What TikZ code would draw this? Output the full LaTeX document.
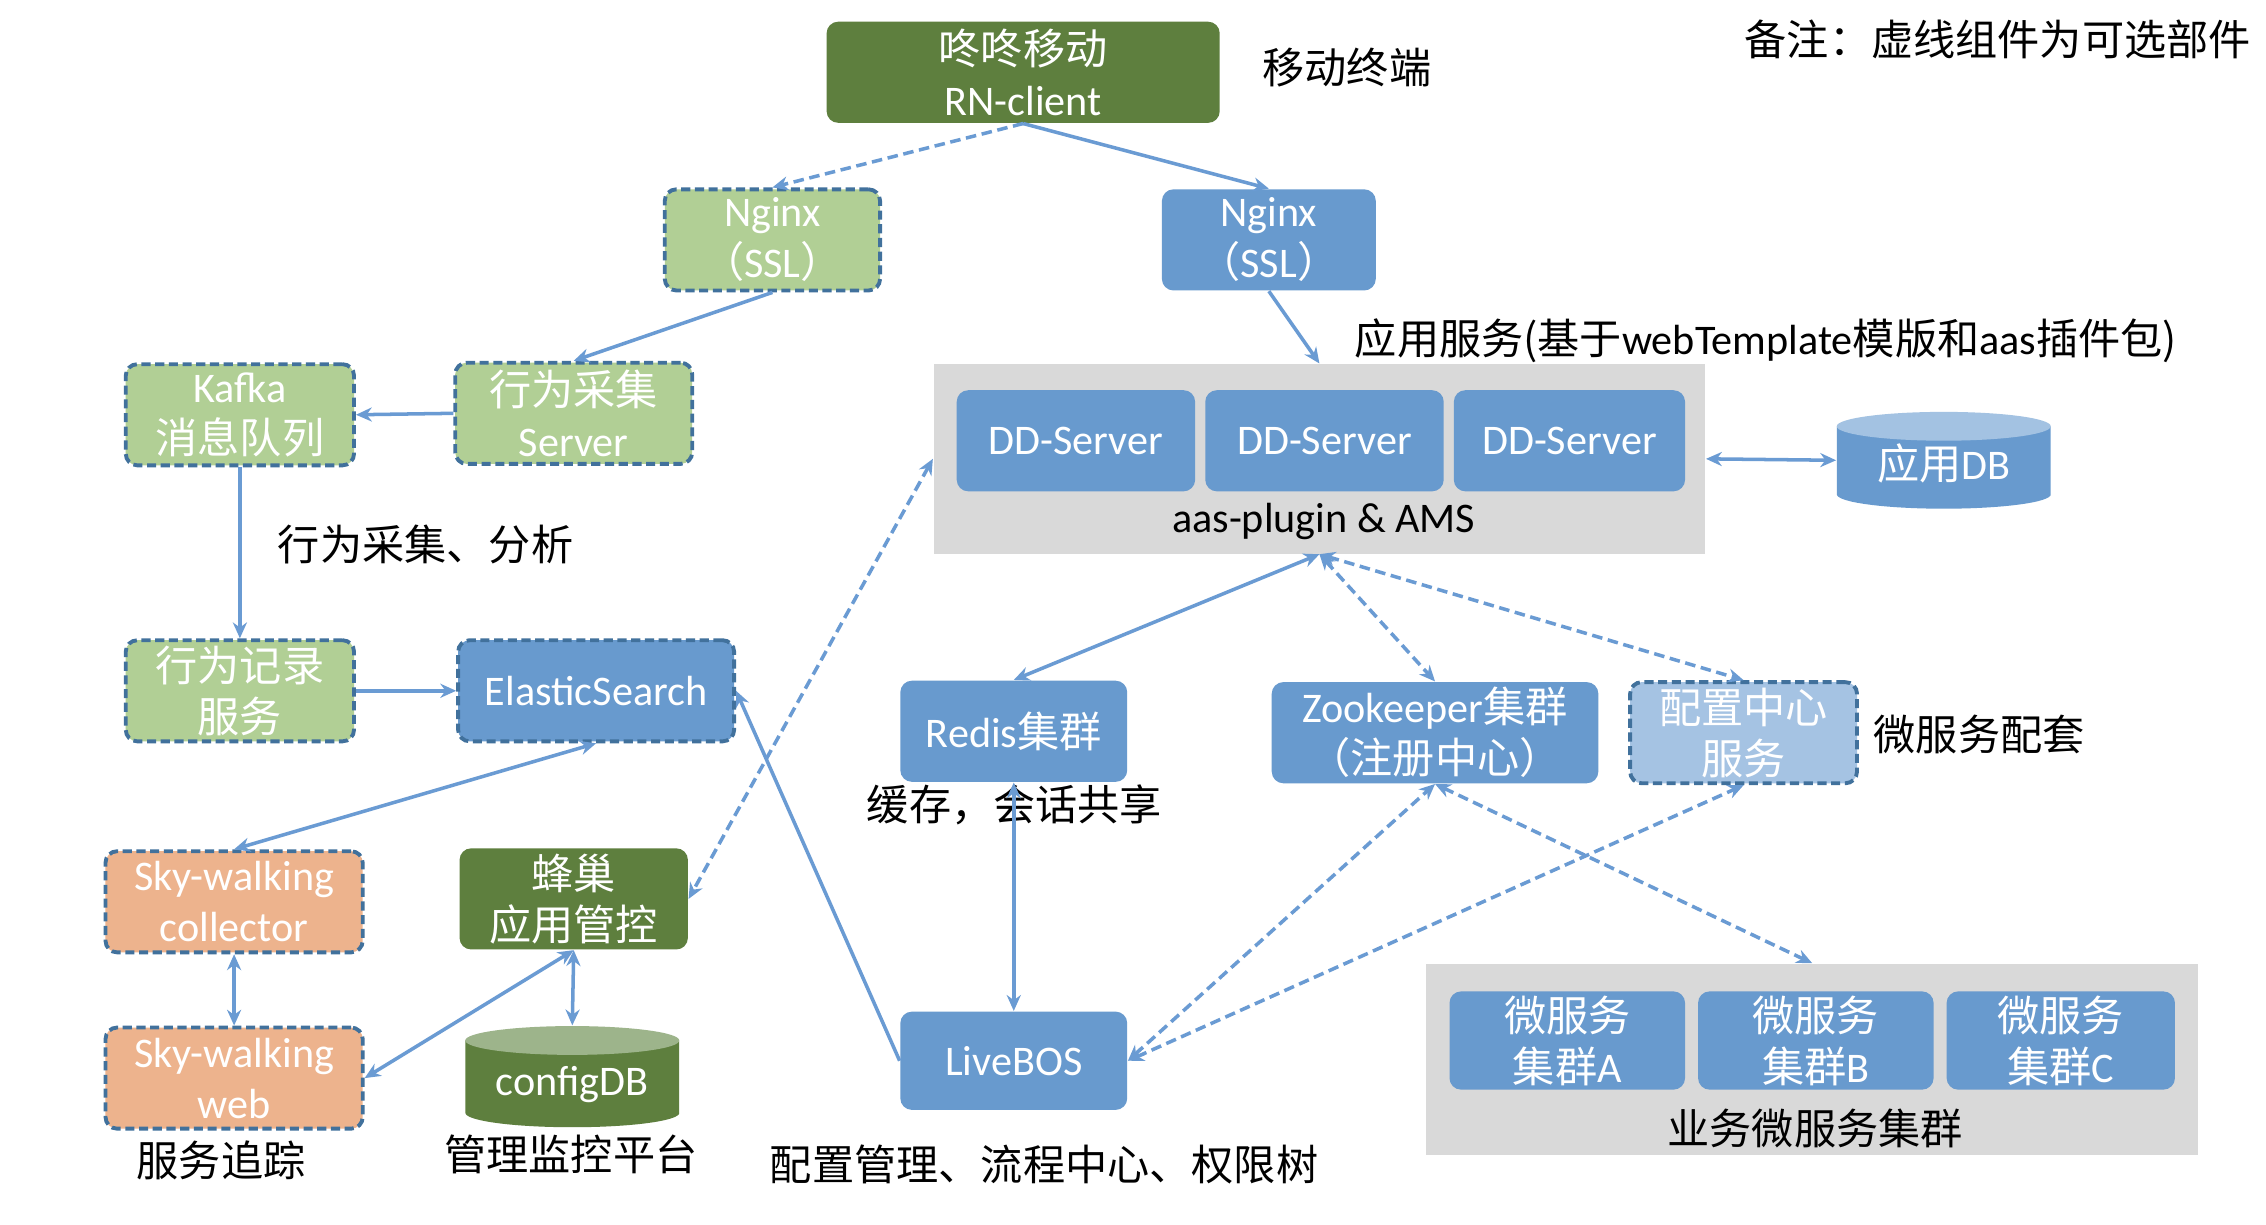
\documentclass[tikz,border=0pt]{standalone}
\usepackage{fontspec}
\setmainfont{Carlito}
\newfontfamily\zhfont{Noto Sans CJK SC}
\usepackage{tikz}
\usetikzlibrary{arrows.meta}
\usetikzlibrary{arrows}

\definecolor{linkblue}{RGB}{106,155,211}
\definecolor{boxblue}{RGB}{104,154,206}
\definecolor{darkgreen}{RGB}{94,127,62}
\definecolor{lightgreen}{RGB}{177,207,149}
\definecolor{optborder}{RGB}{65,113,156}
\definecolor{skyorange}{RGB}{237,179,141}
\definecolor{lightblue}{RGB}{165,195,227}
\definecolor{panelgrey}{RGB}{217,217,217}
\definecolor{dbbluetop}{RGB}{163,194,226}
\definecolor{dbgreentop}{RGB}{157,180,139}

\newcommand{\zh}[1]{{\zhfont #1}}
\newcommand{\boxfont}{\fontsize{12}{14.5}\selectfont}
\newcommand{\dbtext}[1]{\raisebox{-5.5pt}[0pt][0pt]{#1}}

\begin{document}
\begin{tikzpicture}[x=0.014452cm, y=-0.014452cm, >={Stealth[length=4.5pt,width=4pt]},
        box_size/.style 2 args={minimum width=#1*0.014452cm, minimum height=#2*0.014452cm},
        box_style/.style={rounded corners=3.3pt, inner sep=0pt, align=center, text=white, font=\boxfont},
        blue_node_style/.style={box_style, fill=boxblue},
        green_node_style/.style={box_style, fill=darkgreen},
        opt_node_style/.style={box_style, draw=optborder, line width=1.1pt, dash pattern=on 2.6pt off 1.3pt},
        opt_green_node_style/.style={opt_node_style, fill=lightgreen},
        opt_blue_node_style/.style={opt_node_style, fill=boxblue},
        opt_orange_node_style/.style={opt_node_style, fill=skyorange},
        opt_light_node_style/.style={opt_node_style, fill=lightblue},
        panel_style/.style={fill=panelgrey, inner sep=0pt},
        db_style/.style 2 args={inner sep=0pt, text=white, font=\boxfont, path picture={
            \fill [#1] ([yshift=-4.1pt]path picture bounding box.north west) -- ([yshift=4.1pt]path picture bounding box.south west)
                arc [start angle=180, end angle=360, x radius=30.45pt, y radius=4.1pt]
                -- ([yshift=-4.1pt]path picture bounding box.north east) -- cycle;
            \fill [#2] ([yshift=-4.1pt]path picture bounding box.north) ellipse [x radius=30.45pt, y radius=4.1pt];}},
        note_style/.style={inner sep=0pt, font=\boxfont},
        edge_style/.style={draw=linkblue, line width=1pt, ->},
        opt_edge_style/.style={edge_style, dash pattern=on 3pt off 1.6pt}]

        \path [use as bounding box, fill=white] (0,0) rectangle (1568,847);

        % grey panels
        \node [panel_style, box_size={534}{131}] (app) at (913,317.5) {};
        \node [panel_style, box_size={534}{132}] (ms) at (1254,733) {};

        \node [green_node_style, box_size={272}{70}] (rn) at (708,50) {\zh{咚咚移动}\\RN-client};
        \node [opt_green_node_style, box_size={149}{70}] (ngx_l) at (534.5,166) {Nginx\\\zh{（}SSL\zh{）}};
        \node [blue_node_style, box_size={148}{70}] (ngx_r) at (878,166) {Nginx\\\zh{（}SSL\zh{）}};

        \node [opt_green_node_style, box_size={164}{70}] (collect) at (397,286) {\zh{行为采集}\\Server};
        \node [opt_green_node_style, box_size={158}{70}] (kafka) at (166,287) {Kafka\\\zh{消息队列}};
        \node [opt_green_node_style, box_size={158}{70}] (record) at (166,478) {\zh{行为记录}\\\zh{服务}};
        \node [opt_blue_node_style, box_size={191}{70}] (es) at (412.5,478) {ElasticSearch};

        \node [opt_orange_node_style, box_size={178}{70}] (sw_col) at (162,624) {Sky-walking\\collector};
        \node [opt_orange_node_style, box_size={178}{70}] (sw_web) at (162,746) {Sky-walking\\web};
        \node [green_node_style, box_size={158}{70}] (hive) at (397,622) {\zh{蜂巢}\\\zh{应用管控}};
        \node [db_style={darkgreen}{dbgreentop}, box_size={148}{70}] (cfgdb) at (396,745) {\dbtext{configDB}};

        \node [blue_node_style, box_size={165}{70}] (dd1) at (744.5,305) {DD-Server};
        \node [blue_node_style, box_size={165}{70}] (dd2) at (916.5,305) {DD-Server};
        \node [blue_node_style, box_size={160}{70}] (dd3) at (1086,305) {DD-Server};
        \node [db_style={boxblue}{dbbluetop}, box_size={148}{67}] (appdb) at (1345,318.5) {\dbtext{\zh{应用}DB}};

        \node [blue_node_style, box_size={157}{70}] (redis) at (701.5,506) {Redis\zh{集群}};
        \node [blue_node_style, box_size={226}{70}] (zk) at (993,507) {Zookeeper\zh{集群}\\\zh{（注册中心）}};
        \node [opt_light_node_style, box_size={157}{70}] (cfgc) at (1206.5,507) {\zh{配置中心}\\\zh{服务}};
        \node [blue_node_style, box_size={157}{68}] (livebos) at (701.5,734) {LiveBOS};

        \node [blue_node_style, box_size={163}{68}] (msa) at (1084.5,720) {\zh{微服务}\\\zh{集群}A};
        \node [blue_node_style, box_size={163}{68}] (msb) at (1256.5,720) {\zh{微服务}\\\zh{集群}B};
        \node [blue_node_style, box_size={158}{68}] (msc) at (1426,720) {\zh{微服务}\\\zh{集群}C};

        % texts
        \node [note_style] (t_mobile) at (932,47) {\zh{移动终端}};
        \node [note_style, anchor=east] (t_note) at (1558,27) {\zh{备注：虚线组件为可选部件}};
        \node [note_style, anchor=west] (t_app) at (937,236) {\zh{应用服务(基于}webTemplate\zh{模版和}aas\zh{插件包)}};
        \node [note_style] (t_plugin) at (916,361) {aas-plugin \& AMS};
        \node [note_style] (t_behave) at (294.5,377) {\zh{行为采集、分析}};
        \node [note_style] (t_cache) at (702,557) {\zh{缓存，会话共享}};
        \node [note_style, anchor=west] (t_micro) at (1296,508) {\zh{微服务配套}};
        \node [note_style] (t_trace) at (153,803) {\zh{服务追踪}};
        \node [note_style] (t_manage) at (395,799) {\zh{管理监控平台}};
        \node [note_style] (t_config) at (722.5,806) {\zh{配置管理、流程中心、权限树}};
        \node [note_style] (t_biz) at (1256,781) {\zh{业务微服务集群}};

        % connectors
        \draw [opt_edge_style] (rn.south) -- (ngx_l.north);
        \draw [edge_style] (rn.south) -- (ngx_r.north);
        \draw [edge_style] (ngx_r.south) -- (app.north);
        \draw [edge_style] (ngx_l.south) -- (collect.north);
        \draw [edge_style] (collect.west) -- (kafka.east);
        \draw [edge_style] (kafka.south) -- (record.north);
        \draw [edge_style] (record.east) -- (es.west);
        \draw [edge_style, <->] (es.south) -- (sw_col.north);
        \draw [edge_style, <->] (sw_col.south) -- (sw_web.north);
        \draw [edge_style, <->] (hive.south) -- (sw_web.east);
        \draw [edge_style, <->] (hive.south) -- (cfgdb.north);
        \draw [opt_edge_style, <->] (app.west) -- (hive.east);
        \draw [edge_style] (livebos.west) -- (es.east);
        \draw [edge_style, <->] (app.south) -- (redis.north);
        \draw [opt_edge_style, <->] (app.south) -- (zk.north);
        \draw [opt_edge_style, <->] (app.south) -- (cfgc.north);
        \draw [edge_style, <->] (redis.south) -- (livebos.north);
        \draw [opt_edge_style, <->] (livebos.east) -- (zk.south);
        \draw [opt_edge_style, <->] (livebos.east) -- (cfgc.south);
        \draw [opt_edge_style, <->] (zk.south) -- (ms.north);
        \draw [edge_style, <->] (app.east) -- (appdb.west);

        \end{tikzpicture}
\end{document}
